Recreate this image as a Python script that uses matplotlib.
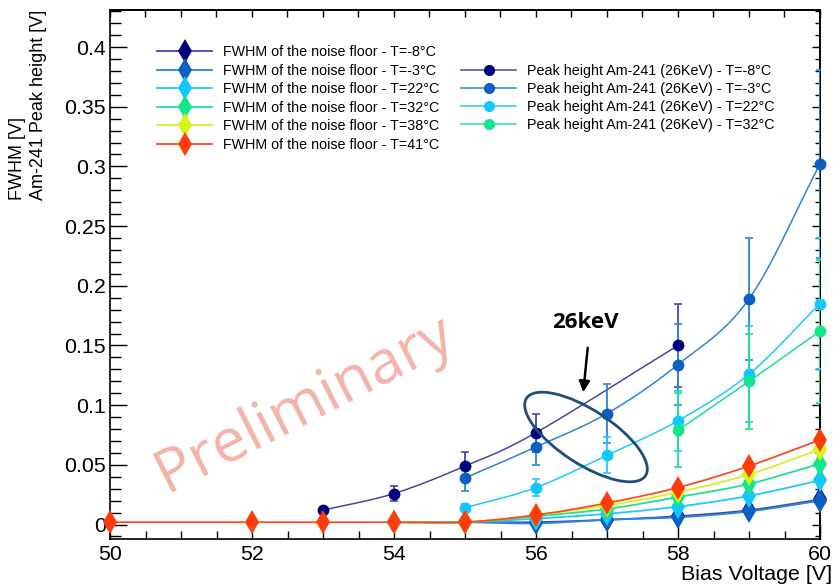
import numpy as np
import matplotlib
matplotlib.use("Agg")
import matplotlib.pyplot as plt
from matplotlib.lines import Line2D
from matplotlib.patches import Ellipse
from matplotlib.ticker import MultipleLocator

plt.rcParams['font.family'] = ['Liberation Sans', 'DejaVu Sans']

# ---- data -------------------------------------------------------------
# Noise-floor FWHM [V] vs bias voltage [V]
fwhm_labels = ["FWHM of the noise floor - T=-8°C",
               "FWHM of the noise floor - T=-3°C",
               "FWHM of the noise floor - T=22°C",
               "FWHM of the noise floor - T=32°C",
               "FWHM of the noise floor - T=38°C",
               "FWHM of the noise floor - T=41°C"]
fwhm_m8_x = [54, 55, 56, 57, 58, 59, 60]
fwhm_m8_y = [0.002, 0.002, 0.002, 0.004, 0.007, 0.012, 0.021]
fwhm_m3_x = [54, 55, 56, 57, 58, 59, 60]
fwhm_m3_y = [0.002, 0.002, 0.001, 0.004, 0.006, 0.011, 0.020]
fwhm_22_x = [54, 55, 56, 57, 58, 59, 60]
fwhm_22_y = [0.002, 0.002, 0.005, 0.009, 0.015, 0.024, 0.037]
fwhm_32_x = [54, 55, 56, 57, 58, 59, 60]
fwhm_32_y = [0.002, 0.002, 0.007, 0.013, 0.023, 0.034, 0.051]
fwhm_38_x = [54, 55, 56, 57, 58, 59, 60]
fwhm_38_y = [0.002, 0.002, 0.008, 0.016, 0.027, 0.042, 0.063]
fwhm_41_x = [50, 52, 53, 54, 55, 56, 57, 58, 59, 60]
fwhm_41_y = [0.002, 0.002, 0.002, 0.002, 0.002, 0.008, 0.018, 0.031, 0.049, 0.071]

# Am-241 (26 keV) peak height [V] vs bias voltage [V], with errors
peak_labels = ["Peak height Am-241 (26KeV) - T=-8°C",
               "Peak height Am-241 (26KeV) - T=-3°C",
               "Peak height Am-241 (26KeV) - T=22°C",
               "Peak height Am-241 (26KeV) - T=32°C"]
peak_m8_x = [53, 54, 55, 56, 58]
peak_m8_y = [0.012, 0.026, 0.049, 0.077, 0.150]
peak_m8_e = [0.002, 0.006, 0.012, 0.016, 0.035]
peak_m3_x = [55, 56, 57, 58, 59, 60]
peak_m3_y = [0.039, 0.065, 0.093, 0.134, 0.189, 0.302]
peak_m3_e = [0.011, 0.015, 0.025, 0.034, 0.051, 0.079]
peak_22_x = [55, 56, 57, 58, 59, 60]
peak_22_y = [0.014, 0.031, 0.058, 0.087, 0.126, 0.185]
peak_22_e = [0.003, 0.007, 0.015, 0.025, 0.040, 0.055]
peak_32_x = [58, 59, 60]
peak_32_y = [0.079, 0.120, 0.162]
peak_32_e = [0.031, 0.040, 0.060]

# marker / line colours per temperature
mk_colors = ["#00007f", "#0a5fc2", "#10c8ff", "#12e68a", "#d4f512", "#ff3c0a"]
ln_colors = ["#4646a8", "#2a86d6", "#20c8ff", "#20e08c", "#d8f020", "#ff4a20"]


def smooth(x, y, n=24):
    """Catmull-Rom curve through the points, for the connecting line."""
    P = np.column_stack([np.asarray(x, float), np.asarray(y, float)])
    if len(P) < 3:
        return P[:, 0], P[:, 1]
    P = np.vstack([2 * P[0] - P[1], P, 2 * P[-1] - P[-2]])
    t = np.linspace(0, 1, n, endpoint=False)[:, None]
    pts = []
    for i in range(1, len(P) - 2):
        p0, p1, p2, p3 = P[i - 1], P[i], P[i + 1], P[i + 2]
        c = 0.5 * ((2 * p1) + (-p0 + p2) * t + (2 * p0 - 5 * p1 + 4 * p2 - p3) * t ** 2
                   + (-p0 + 3 * p1 - 3 * p2 + p3) * t ** 3)
        pts.append(c)
    pts.append(P[-2][None, :])
    c = np.vstack(pts)
    return c[:, 0], c[:, 1]


W, H = 836, 588
fig = plt.figure(figsize=(W / 100, H / 100), dpi=100)
ax = fig.add_axes([110 / W, 1 - 539 / H, (820 - 110) / W, (539 - 10) / H])
ax.set_xlim(50, 60)
ax.set_ylim(-0.0121, 0.431)

# peak-height graphs with error bars
peaks = [(peak_m8_x, peak_m8_y, peak_m8_e), (peak_m3_x, peak_m3_y, peak_m3_e),
         (peak_22_x, peak_22_y, peak_22_e), (peak_32_x, peak_32_y, peak_32_e)]
peak_handles = []
for i, (x, y, e) in enumerate(peaks):
    sx, sy = smooth(x, y)
    ax.plot(sx, sy, color=ln_colors[i], lw=1.1, zorder=2)
    ax.errorbar(x, y, yerr=e, fmt='none', ecolor=ln_colors[i], elinewidth=1.3,
                capsize=3, capthick=1.2, zorder=3)
    ax.plot(x, y, 'o', color=mk_colors[i], ms=7.5, zorder=4, clip_on=False)
    peak_handles.append(Line2D([], [], color=ln_colors[i], lw=1.1, marker='o',
                               ms=7, mfc=mk_colors[i], mec=mk_colors[i]))

# noise-floor FWHM graphs
fwhms = [(fwhm_m8_x, fwhm_m8_y), (fwhm_m3_x, fwhm_m3_y), (fwhm_22_x, fwhm_22_y),
         (fwhm_32_x, fwhm_32_y), (fwhm_38_x, fwhm_38_y), (fwhm_41_x, fwhm_41_y)]
fwhm_handles = []
for i, (x, y) in enumerate(fwhms):
    sx, sy = smooth(x, y)
    ax.plot(sx, sy, color=ln_colors[i], lw=1.3, zorder=5 + i)
    ax.plot(x, y, 'd', color=mk_colors[i], ms=12.5, mew=0, zorder=5 + i, clip_on=False)
    fwhm_handles.append(Line2D([], [], color=ln_colors[i], lw=1.3, marker='d',
                               ms=12.5, mew=0, mfc=mk_colors[i]))

# axes styling
for s in ax.spines.values():
    s.set_linewidth(1.2)
ax.xaxis.set_major_locator(MultipleLocator(2))
ax.xaxis.set_minor_locator(MultipleLocator(0.5))
ax.yaxis.set_major_locator(MultipleLocator(0.05))
ax.yaxis.set_minor_locator(MultipleLocator(0.01))
ax.set_yticks(np.arange(0, 0.401, 0.05))
ax.set_yticklabels(["0", "0.05", "0.1", "0.15", "0.2", "0.25", "0.3", "0.35", "0.4"])
ax.tick_params(axis='x', which='major', direction='in', length=11, width=1, pad=4,
               labelsize=15.4)
ax.tick_params(axis='x', which='minor', direction='in', length=5.5, width=1)
ax.tick_params(axis='y', which='major', direction='in', length=12, width=1, pad=3,
               labelsize=15.4)
ax.tick_params(axis='y', which='minor', direction='in', length=8, width=1)

top = ax.secondary_xaxis('top')
top.xaxis.set_major_locator(MultipleLocator(0.5))
top.tick_params(direction='in', length=5, width=1, labeltop=False)
top.spines['top'].set_linewidth(1.2)
right = ax.secondary_yaxis('right')
right.yaxis.set_major_locator(MultipleLocator(0.05))
right.yaxis.set_minor_locator(MultipleLocator(0.01))
right.tick_params(which='major', direction='in', length=6, width=1, labelright=False)
right.tick_params(which='minor', direction='in', length=3.6, width=1)
right.spines['right'].set_linewidth(1.2)

# axis titles
fig.text(832 / W, 1 - 580 / H, "Bias Voltage [V]", ha='right', va='baseline',
         fontsize=15.4)
fig.text(28 / W, 1 - 10 / H, "FWHM [V]\nAm-241 Peak height [V]", rotation=90,
         ha='center', va='top', multialignment='left', fontsize=13, linespacing=1.25)

# legends
fs = 10.3
leg1 = fig.legend(fwhm_handles, fwhm_labels, loc='upper left',
                  bbox_to_anchor=(157 / W, 1 - 45 / H), frameon=False, fontsize=fs,
                  handlelength=3.85, handletextpad=0.75, labelspacing=0.32,
                  borderpad=0, borderaxespad=0)
leg2 = fig.legend(peak_handles, peak_labels, loc='upper left',
                  bbox_to_anchor=(461 / W, 1 - 64 / H), frameon=False, fontsize=fs,
                  handlelength=3.85, handletextpad=0.75, labelspacing=0.29,
                  borderpad=0, borderaxespad=0)

# watermark
fig.text(305 / W, 1 - 404 / H, "Preliminary", rotation=27, rotation_mode='anchor',
         ha='center', va='center', fontsize=44, color='#f2b4a9',
         family=['Open Sans', 'DejaVu Sans'], zorder=1)

# 26 keV annotation: label, arrow and ellipse around the peak points
fig.text(585 / W, 1 - 322 / H, "26keV", ha='center', va='center', fontsize=16,
         fontweight='bold', family=['Open Sans', 'DejaVu Sans'])
ax.annotate("", xy=(583, H - 395), xycoords='figure pixels',
            xytext=(588, H - 345), textcoords='figure pixels',
            arrowprops=dict(arrowstyle='-|>', lw=1.8, color='black', mutation_scale=16))
ell = Ellipse((5.86, (H - 437) / 100), 1.42, 0.54, angle=-33, fill=False,
              edgecolor='#1f4e79', lw=2.0, transform=fig.dpi_scale_trans, zorder=20)
fig.add_artist(ell)

fig.savefig("out.png", dpi=100)
